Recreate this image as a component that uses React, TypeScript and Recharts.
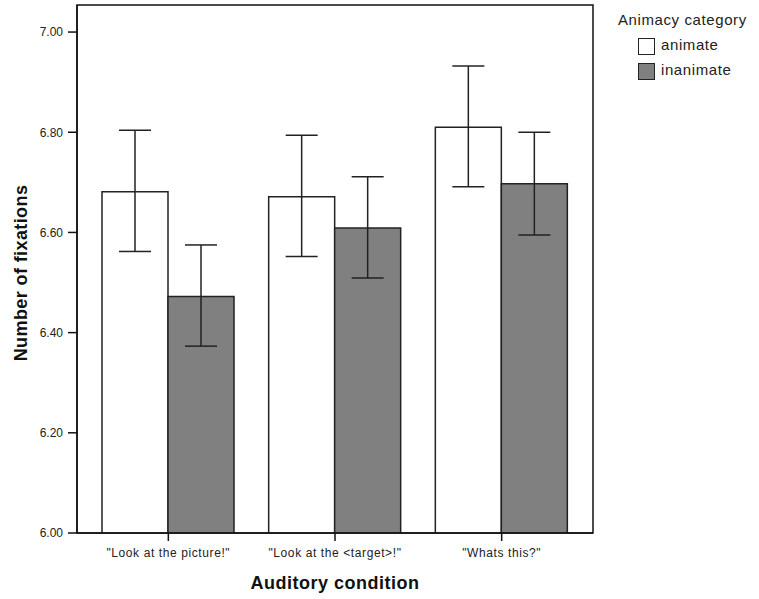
import React from 'react';
import { BarChart, Bar, XAxis, YAxis, ErrorBar, ReferenceArea } from 'recharts';

const conditions = ['"Look at the picture!"', '"Look at the <target>!"', '"Whats this?"'];
const animateMean = [6.681, 6.671, 6.81];
const animateLow = [6.562, 6.552, 6.691];
const animateHigh = [6.804, 6.794, 6.932];
const inanimateMean = [6.472, 6.609, 6.697];
const inanimateLow = [6.373, 6.509, 6.595];
const inanimateHigh = [6.575, 6.711, 6.8];
const yTicks = [6, 6.2, 6.4, 6.6, 6.8, 7];
const yDomain = [6, 7.054];

const data = conditions.map((name, i) => ({
  name,
  animate: animateMean[i],
  animateErr: [animateMean[i] - animateLow[i], animateHigh[i] - animateMean[i]],
  inanimate: inanimateMean[i],
  inanimateErr: [inanimateMean[i] - inanimateLow[i], inanimateHigh[i] - inanimateMean[i]],
}));

const font = '"Liberation Sans", Arial, sans-serif';
const xPad = 8;

function YTitle(props: any) {
  const { x, y, height } = props.viewBox;
  const cx = x + 21;
  const cy = y + height / 2 + 4;
  return <text x={cx} y={cy} transform={`rotate(-90 ${cx} ${cy})`} textAnchor="middle" dominantBaseline="central"
      fontSize={18} fontWeight="bold" letterSpacing={0.4} fill="#111">
      Number of fixations
    </text>;
}

function XTitle(props: any) {
  const { x, y, width } = props.viewBox;
  return <text x={x + width / 2} y={y + 56} textAnchor="middle" fontSize={18} fontWeight="bold" letterSpacing={0.5} fill="#111">
      Auditory condition
    </text>;
}

// plot frame: the reference area covers the padded band range, widen it back to the full plot
function Frame(props: any) {
  const { x, y, width, height } = props;
  return <rect x={x - xPad} y={y} width={width + 2 * xPad} height={height} fill="none" stroke="#111" strokeWidth={1.5} />;
}

export default function App() {
  const box = (fill: string) => ({
    display: 'inline-block', width: 15, height: 15, background: fill, border: '1.5px solid #222', marginRight: 6, verticalAlign: 'middle'
  });
  return <div style={{ position: 'absolute', left: 0, top: 0, width: 759, height: 599, background: '#fff', fontFamily: font }}>
      <BarChart width={759} height={599} data={data} barGap={0} barSize={66}
        margin={{ top: 5, right: 166, left: 0, bottom: 0 }}>
        <XAxis dataKey="name" height={66} padding={{ left: xPad, right: xPad }} tickSize={8} tickMargin={7}
          stroke="#111" strokeWidth={1.5} tick={{ fontSize: 12, fill: '#222', letterSpacing: 0.6 }}
          label={<XTitle />} />
        <YAxis width={77} domain={yDomain} ticks={yTicks} allowDataOverflow tickSize={9} tickMargin={5}
          tickFormatter={(v: number) => v.toFixed(2)} stroke="#111" strokeWidth={1.5}
          tick={{ fontSize: 12, fill: '#222' }} label={<YTitle />} />
        <Bar dataKey="animate" fill="#ffffff" stroke="#222" strokeWidth={1.5} isAnimationActive={false}>
          <ErrorBar dataKey="animateErr" width={16} stroke="#222" strokeWidth={1.5} direction="y" />
        </Bar>
        <Bar dataKey="inanimate" fill="#808080" stroke="#222" strokeWidth={1.5} isAnimationActive={false}>
          <ErrorBar dataKey="inanimateErr" width={16} stroke="#222" strokeWidth={1.5} direction="y" />
        </Bar>
        <ReferenceArea y1={yDomain[0]} y2={yDomain[1]} ifOverflow="visible" shape={<Frame />} />
      </BarChart>
      <div style={{ position: 'absolute', left: 618, top: 10, fontSize: 15, letterSpacing: 0.6, color: '#222', lineHeight: '20px' }}>
        Animacy category
      </div>
      <div style={{ position: 'absolute', left: 638, top: 35, fontSize: 15, letterSpacing: 0.6, color: '#222', lineHeight: '20px' }}>
        <div style={{ height: 25 }}><span style={box('#ffffff')} />animate</div>
        <div style={{ height: 25 }}><span style={box('#808080')} />inanimate</div>
      </div>
    </div>;
}
